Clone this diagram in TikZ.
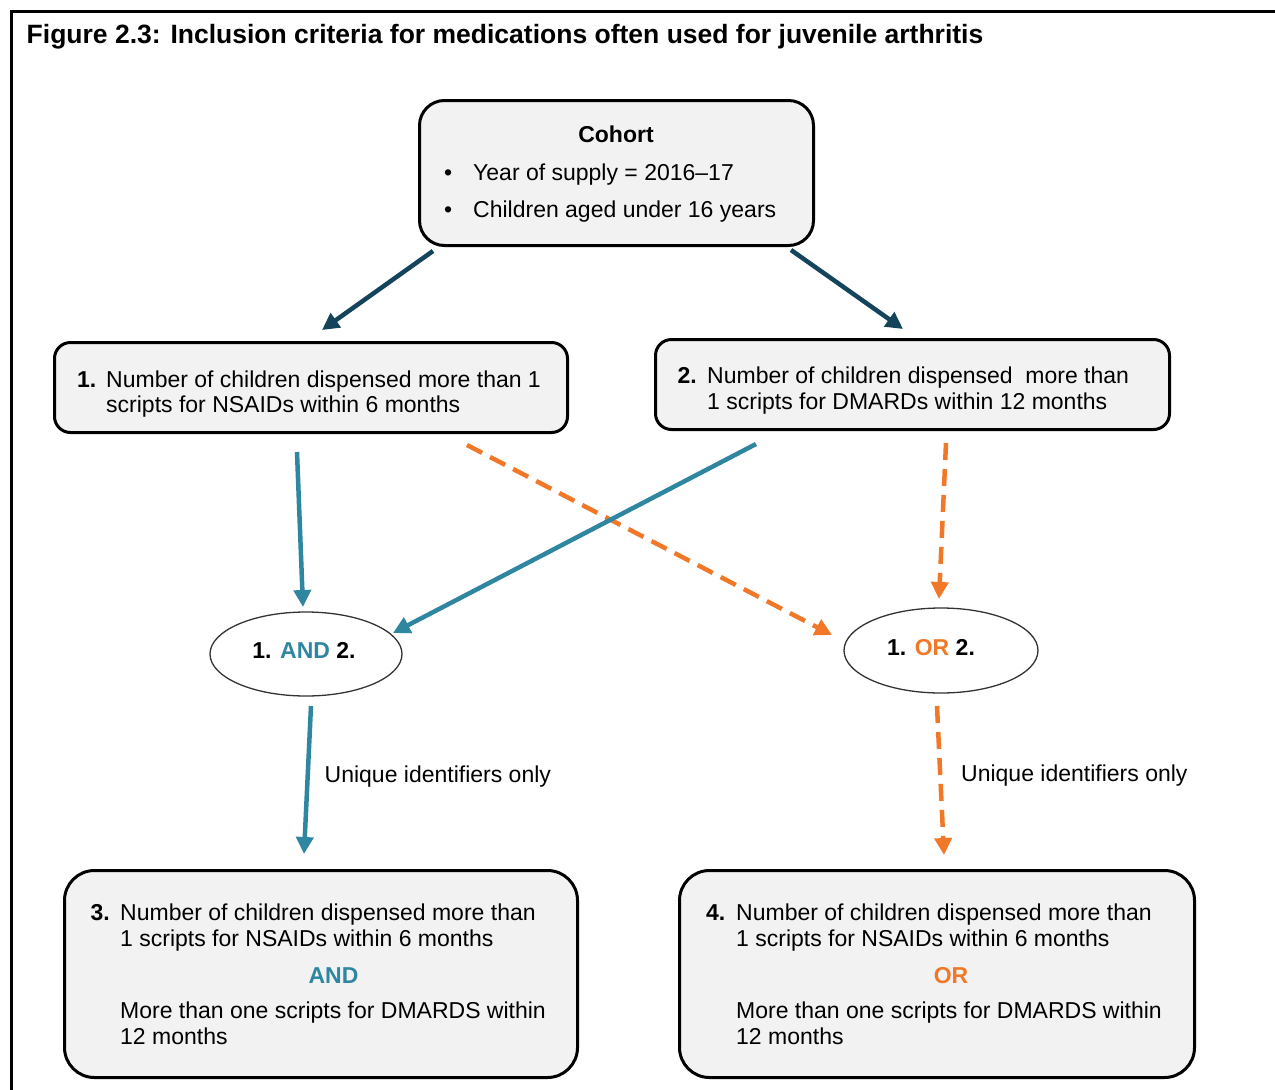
\documentclass[tikz,border=0pt]{standalone}
\usepackage{fontspec}
\setmainfont{Liberation Sans}
\usetikzlibrary{arrows.meta,shapes.geometric}
\definecolor{navy}{RGB}{20,68,92}
\definecolor{teal}{RGB}{46,134,160}
\definecolor{orng}{RGB}{240,120,40}
\definecolor{boxfill}{RGB}{242,242,242}
\tikzset{
  rbox/.style={draw=black, line width=3pt, fill=boxfill, rectangle, inner sep=0pt},
  oval/.style={draw=black!80, line width=1.3pt, ellipse, inner sep=0pt},
  txt/.style={anchor=base west, inner sep=0pt, font=\fontsize{23}{26}\selectfont},
  ctxt/.style={anchor=base, inner sep=0pt, font=\fontsize{23}{26}\selectfont},
  arr/.style={line width=4.5pt, -{Triangle[length=17pt,width=17pt]}},
  navyarr/.style={arr, draw=navy, color=navy},
  tealarr/.style={arr, draw=teal, color=teal},
  orarr/.style={arr, draw=orng, color=orng, dash pattern=on 17pt off 9pt}
}
\begin{document}
\begin{tikzpicture}[x=1pt,y=-1pt]
\useasboundingbox (0,0) rectangle (1275,1090);
% frame
\draw[line width=3pt] (11,1090) -- (11,11) -- (1275,11);
% title
\node[anchor=base west, inner sep=0pt, font=\fontsize{26.5}{30}\selectfont\bfseries] (title) at (26.5,43)
  {Figure 2.3: Inclusion criteria for medications often used for juvenile arthritis};

% boxes
\node[rbox, rounded corners=25pt, minimum width=394pt, minimum height=145pt] (cohort) at (616.5,173) {};
\node[rbox, rounded corners=16pt, minimum width=513pt, minimum height=90pt] (b1) at (311,387.5) {};
\node[rbox, rounded corners=16pt, minimum width=514pt, minimum height=90pt] (b2) at (912.5,384.5) {};
\node[rbox, rounded corners=30pt, minimum width=513pt, minimum height=207pt] (b3) at (321,974) {};
\node[rbox, rounded corners=30pt, minimum width=515pt, minimum height=207pt] (b4) at (937,974) {};
\node[oval, minimum width=192pt, minimum height=84pt] (andel) at (306,654) {};
\node[oval, minimum width=194pt, minimum height=85pt] (orel) at (941,650.5) {};

% cohort text
\node[ctxt, font=\fontsize{23}{26}\selectfont\bfseries] (ch) at (616,142) {Cohort};
\node[txt] (bul1) at (444,180) {•};
\node[txt] (c1) at (473,180) {Year of supply = 2016–17};
\node[txt] (bul2) at (444,217) {•};
\node[txt] (c2) at (473,217) {Children aged under 16 years};

% box 1
\node[txt, font=\fontsize{23}{26}\selectfont\bfseries] (n1) at (77,387) {1.};
\node[txt] (t1a) at (106,387) {Number of children dispensed more than 1};
\node[txt] (t1b) at (106,412) {scripts for NSAIDs within 6 months};
% box 2
\node[txt, font=\fontsize{23}{26}\selectfont\bfseries] (n2) at (677.5,383) {2.};
\node[txt] (t2a) at (707,383) {Number of children dispensed\ \ more than};
\node[txt] (t2b) at (707,409) {1 scripts for DMARDs within 12 months};

% ellipses text
\node[ctxt, font=\fontsize{23}{26}\selectfont\bfseries] (andt) at (304,658) {1. \textcolor{teal}{AND} 2.};
\node[ctxt, font=\fontsize{23}{26}\selectfont\bfseries] (ort) at (931,655) {1. \textcolor{orng}{OR} 2.};

% box 3
\node[txt, font=\fontsize{23}{26}\selectfont\bfseries] (n3) at (90.5,920) {3.};
\node[txt] (t3a) at (120,920) {Number of children dispensed more than};
\node[txt] (t3b) at (120,946) {1 scripts for NSAIDs within 6 months};
\node[ctxt, font=\fontsize{23}{26}\selectfont\bfseries, text=teal] (t3c) at (333.5,983) {AND};
\node[txt] (t3d) at (120,1018) {More than one scripts for DMARDS within};
\node[txt] (t3e) at (120,1044) {12 months};
% box 4
\node[txt, font=\fontsize{23}{26}\selectfont\bfseries] (n4) at (706,920) {4.};
\node[txt] (t4a) at (736,920) {Number of children dispensed more than};
\node[txt] (t4b) at (736,946) {1 scripts for NSAIDs within 6 months};
\node[ctxt, font=\fontsize{23}{26}\selectfont\bfseries, text=orng] (t4c) at (951,983) {OR};
\node[txt] (t4d) at (736,1018) {More than one scripts for DMARDS within};
\node[txt] (t4e) at (736,1044) {12 months};

% labels
\node[txt] (u1) at (324.5,782) {Unique identifiers only};
\node[txt] (u2) at (961,781) {Unique identifiers only};

% connector ends
\coordinate (na1) at (433,251);  \coordinate (na2) at (322,330);
\coordinate (nb1) at (791,250);  \coordinate (nb2) at (903,329);
\coordinate (ta1) at (297,452);  \coordinate (ta2) at (303,607);
\coordinate (tb1) at (756,444);  \coordinate (tb2) at (393,633);
\coordinate (oa1) at (467,445);  \coordinate (oa2) at (832,635);
\coordinate (ob1) at (946,443);  \coordinate (ob2) at (939,599);
\coordinate (tc1) at (311,706);  \coordinate (tc2) at (304,854);
\coordinate (oc1) at (937,706);  \coordinate (oc2) at (944,855);

\draw[navyarr] (na1) -- (na2);
\draw[navyarr] (nb1) -- (nb2);
\draw[tealarr] (ta1) -- (ta2);
\draw[orarr] (oa1) -- (oa2);
\draw[tealarr] (tb1) -- (tb2);
\draw[orarr] (ob1) -- (ob2);
\draw[tealarr] (tc1) -- (tc2);
\draw[orarr] (oc1) -- (oc2);
\end{tikzpicture}
\end{document}
